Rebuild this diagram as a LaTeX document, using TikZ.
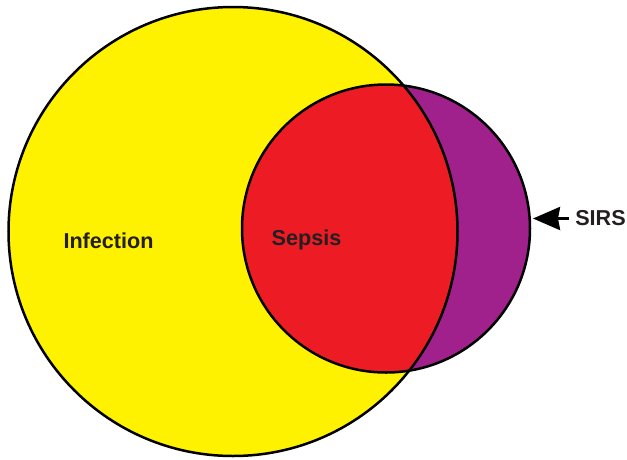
\documentclass[tikz,border=0pt]{standalone}
\usepackage{fontspec}
\setmainfont{Liberation Sans}
\usepackage{xcolor}
\definecolor{cInfect}{HTML}{FFF200}
\definecolor{cSepsis}{HTML}{ED1C24}
\definecolor{cSirs}{HTML}{A0218C}
\definecolor{cText}{HTML}{231F20}
\usetikzlibrary{positioning,arrows.meta}
\tikzset{
  set-line/.style={draw=black,line width=2.5pt},
  set-label/.style={text=cText,font=\fontsize{21.6}{26}\selectfont\bfseries,
    inner sep=0pt,anchor=base},
  arrow/.style={-{Stealth[length=27pt,width=23pt,inset=2pt]},line width=3pt,draw=black},
}
\begin{document}
\begin{tikzpicture}[x=1pt,y=-1pt]
  \useasboundingbox (0,0) rectangle (627,459);
  % sets
  \fill[cInfect] (233,231.5) circle[radius=224.5];
  \fill[cSirs] (386,228.5) circle[radius=144];
  \begin{scope}
    \clip (233,231.5) circle[radius=224.5];
    \fill[cSepsis] (386,228.5) circle[radius=144];
  \end{scope}
  \draw[set-line] (233,231.5) circle[radius=224.5];
  \draw[set-line] (386,228.5) circle[radius=144];
  % labels
  \node[set-label] (infect) at (108.5,248) {Infection};
  \node[set-label] (sepsis) at (306.5,245) {Sepsis};
  \node[set-label] (sirs)   at (600.5,225) {SIRS};
  \coordinate (sirs-tip) at (533,218.5);
  \draw[arrow,shorten <=6pt] (sirs.west |- sirs-tip) -- (sirs-tip);
\end{tikzpicture}
\end{document}
